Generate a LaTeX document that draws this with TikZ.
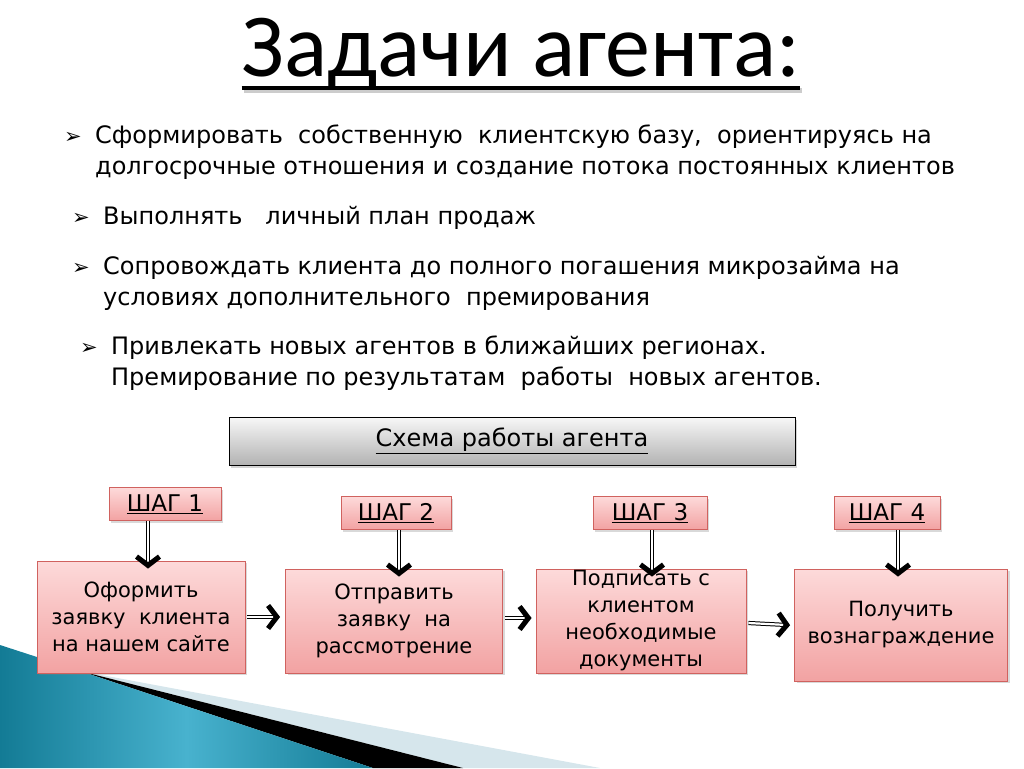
\documentclass[tikz,border=0pt]{standalone}
\usepackage{fontspec}
\setmainfont{DejaVu Sans}
\newfontfamily\titlefont{Carlito}
\newfontfamily\symfont{DejaVu Sans}
\usepackage{tikz}
\usetikzlibrary{shadows}
\usetikzlibrary{decorations.markings}
\definecolor{pinktop}{HTML}{FDDADA}
\definecolor{pinkbot}{HTML}{F2A2A2}
\definecolor{pinkline}{HTML}{D0625F}
\definecolor{tealdark}{HTML}{137B95}
\definecolor{teallight}{HTML}{48B2CE}
\definecolor{wedgegray}{HTML}{D6E6EC}
\tikzset{
    item/.style={anchor=base west,inner sep=0pt,align=left,font=\fontsize{24}{31}\selectfont},
    bullet/.style={anchor=base west,inner sep=0pt,font=\symfont\fontsize{21}{21}\selectfont},
    stepbox/.style={draw=pinkline,line width=0.8pt,top color=pinktop,bottom color=pinkbot,
        drop shadow={opacity=0.3,shadow xshift=2pt,shadow yshift=-2pt},
        font=\fontsize{23}{24}\selectfont,minimum height=33pt,inner sep=0pt},
    taskbox/.style={stepbox,font=\fontsize{21}{27}\selectfont,align=center},
    dbl arrow/.style={double distance=2.2pt,line width=1pt,
        decoration={markings,mark=at position 1 with {\fill[black] (3pt,0pt) -- (-7pt,-13pt) -- (-11pt,-10pt) -- (-3.5pt,0pt) -- (-11pt,10pt) -- (-7pt,13pt) -- cycle;}},
        postaction={decorate}}
}

\begin{document}
\begin{tikzpicture}[x=1pt,y=-1pt]
\useasboundingbox (0,0) rectangle (1024,768);
% corner wedges
\fill[wedgegray] (80,671) -- (600,768) -- (463,768) -- cycle;
\fill[black] (80,671) -- (463,768) -- (373,768) -- cycle;
\shade[left color=tealdark,right color=tealdark,middle color=teallight] (0,645) -- (80,671) -- (373,768) -- (0,768) -- cycle;
% title
\node[font=\titlefont\fontsize{90}{90}\selectfont,anchor=base,inner sep=0pt] (title) at (521,77) {Задачи агента:};
\draw[line width=5pt,black!20] ([yshift=-13pt,xshift=2pt]title.base west) -- ([yshift=-13pt,xshift=2pt]title.base east);
\draw[line width=3.5pt] ([yshift=-11pt]title.base west) -- ([yshift=-11pt]title.base east);
% tasks
\node[bullet] (m1) at (64,143) {➢};
\node[item] (t1) at (95,174) {Сформировать~ собственную~ клиентскую базу,~ ориентируясь на\\долгосрочные отношения и создание потока постоянных клиентов};
\node[bullet] (m2) at (72,224) {➢};
\node[item] (t2) at (103,224) {Выполнять~~ личный план продаж};
\node[bullet] (m3) at (72,274) {➢};
\node[item] (t3) at (103,305) {Сопровождать клиента до полного погашения микрозайма на\\условиях дополнительного~ премирования};
\node[bullet] (m4) at (80,354) {➢};
\node[item] (t4) at (111,385) {Привлекать новых агентов в ближайших регионах.\\Премирование по результатам~ работы~ новых агентов.};
% scheme
\node[draw=black,line width=0.8pt,top color=black!3,bottom color=black!30,
    drop shadow={opacity=0.35,shadow xshift=2pt,shadow yshift=-3pt},
    minimum width=566pt,minimum height=48pt,font=\fontsize{24}{24}\selectfont] (scheme) at (512,441) {\underline{Схема работы агента}};
\node[stepbox,minimum width=112pt] (s1) at (165,504) {\underline{ШАГ 1}};
\node[stepbox,minimum width=110pt] (s2) at (396,513) {\underline{ШАГ 2}};
\node[stepbox,minimum width=114pt] (s3) at (650,513) {\underline{ШАГ 3}};
\node[stepbox,minimum width=106pt] (s4) at (887,513) {\underline{ШАГ 4}};
\node[taskbox,minimum width=208pt,minimum height=112pt] (a1) at (141,617) {Оформить\\заявку~ клиента\\на нашем сайте};
\node[taskbox,minimum width=217pt,minimum height=104pt] (a2) at (394,621) {Отправить\\заявку~ на\\рассмотрение};
\node[taskbox,minimum width=210pt,minimum height=104pt] (a3) at (641,621) {Подписать с\\клиентом\\необходимые\\документы};
\node[taskbox,minimum width=213pt,minimum height=112pt] (a4) at (901,625) {Получить\\вознаграждение};
% arrows
\draw[dbl arrow] ([xshift=-17pt]s1.south) -- ([xshift=-17pt,yshift=-5pt]s1.south |- a1.north);
\draw[dbl arrow] ([xshift=3pt]s2.south) -- ([xshift=3pt,yshift=-5pt]s2.south |- a2.north);
\draw[dbl arrow] ([xshift=2pt]s3.south) -- ([xshift=2pt,yshift=-5pt]s3.south |- a3.north);
\draw[dbl arrow] ([xshift=11pt]s4.south) -- ([xshift=11pt,yshift=-5pt]s4.south |- a4.north);
\draw[dbl arrow] ([xshift=2pt]a1.east) -- ([xshift=-8pt]a1.east -| a2.west);
\draw[dbl arrow] ([xshift=2pt,yshift=3pt]a2.east) -- ([xshift=-7pt,yshift=3pt]a2.east -| a3.west);
\draw[dbl arrow] ([xshift=2pt,yshift=-2pt]a3.east) -- ([xshift=-7pt]a4.west);
\end{tikzpicture}
\end{document}
